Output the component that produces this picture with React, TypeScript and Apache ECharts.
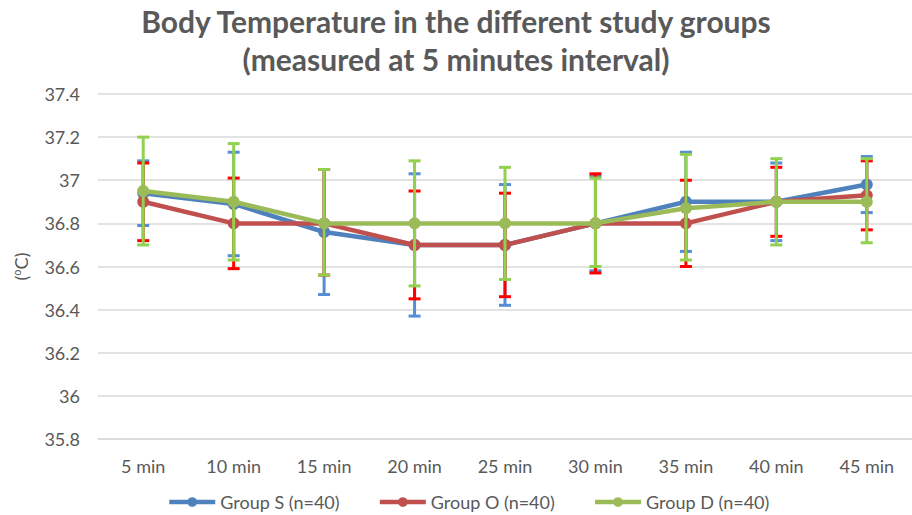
import React, { useEffect, useRef } from "react";
import * as echarts from "echarts";

const categories = ["5 min", "10 min", "15 min", "20 min", "25 min", "30 min", "35 min", "40 min", "45 min"];

const groupNames = ["Group S (n=40)", "Group O (n=40)", "Group D (n=40)"];

const meanS = [36.94, 36.89, 36.76, 36.7, 36.7, 36.8, 36.9, 36.9, 36.98];
const upperS = [37.09, 37.13, 37.05, 37.03, 36.98, 37.02, 37.13, 37.08, 37.11];
const lowerS = [36.79, 36.65, 36.47, 36.37, 36.42, 36.58, 36.67, 36.72, 36.85];

const meanO = [36.9, 36.8, 36.8, 36.7, 36.7, 36.8, 36.8, 36.9, 36.93];
const upperO = [37.08, 37.01, 37.05, 36.95, 36.94, 37.03, 37.0, 37.06, 37.09];
const lowerO = [36.72, 36.59, 36.56, 36.45, 36.46, 36.57, 36.6, 36.74, 36.77];

const meanD = [36.95, 36.9, 36.8, 36.8, 36.8, 36.8, 36.87, 36.9, 36.9];
const upperD = [37.2, 37.17, 37.05, 37.09, 37.06, 37.01, 37.12, 37.1, 37.1];
const lowerD = [36.7, 36.63, 36.56, 36.51, 36.54, 36.6, 36.63, 36.7, 36.71];

const lineColors = ["#4F81BD", "#C0504D", "#9BBB59"];
const errColors = ["#558ED5", "#FF0000", "#92D050"];

const FONT = "Lato";

export default function App() {
  const ref = useRef<HTMLDivElement>(null);

  useEffect(() => {
    if (!ref.current) return;
    const chart = echarts.init(ref.current, null, { renderer: "svg" });

    const means = [meanS, meanO, meanD];
    const uppers = [upperS, upperO, upperD];
    const lowers = [lowerS, lowerO, lowerD];

    const errSeries = means.map((m, gi) => ({
      type: "custom",
      name: groupNames[gi] + " err",
      z: 2 + gi * 2,
      silent: true,
      data: m.map((_, i) => [i, lowers[gi][i], uppers[gi][i]]),
      renderItem: (params: any, api: any) => {
        const x = api.value(0);
        const lo = api.coord([x, api.value(1)]);
        const hi = api.coord([x, api.value(2)]);
        const hw = 6;
        const style = { stroke: errColors[gi], lineWidth: 3 };
        return {
          type: "group",
          children: [
            { type: "line", shape: { x1: lo[0], y1: lo[1], x2: hi[0], y2: hi[1] }, style },
            { type: "line", shape: { x1: hi[0] - hw, y1: hi[1], x2: hi[0] + hw, y2: hi[1] }, style },
            { type: "line", shape: { x1: lo[0] - hw, y1: lo[1], x2: lo[0] + hw, y2: lo[1] }, style },
          ],
        };
      },
      encode: { x: 0, y: [1, 2] },
    }));

    const lineSeries = means.map((m, gi) => ({
      type: "line",
      name: groupNames[gi],
      data: m,
      z: 3 + gi * 2,
      symbol: "circle",
      symbolSize: 12,
      showSymbol: true,
      lineStyle: { color: lineColors[gi], width: 4.5 },
      itemStyle: { color: lineColors[gi] },
    }));

    chart.setOption({
      animation: false,
      backgroundColor: "#FFFFFF",
      title: {
        text: "Body Temperature in the different study groups\n(measured at 5 minutes interval)",
        left: "center",
        top: 2,
        padding: 0,
        textStyle: {
          fontFamily: FONT,
          fontSize: 30,
          fontWeight: "bold",
          color: "#595959",
          lineHeight: 38,
        },
      },
      legend: {
        data: groupNames,
        top: 493,
        left: 167,
        padding: 0,
        itemWidth: 46,
        itemHeight: 12,
        itemGap: 38,
        lineStyle: { width: 4.5 },
        textStyle: { fontFamily: FONT, fontSize: 18, color: "#595959" },
      },
      grid: { left: 98, right: -8, top: 94, bottom: 76, containLabel: false },
      xAxis: {
        type: "category",
        data: categories,
        boundaryGap: true,
        axisLine: { show: true, lineStyle: { color: "#D9D9D9", width: 1.5 } },
        axisTick: { show: false },
        axisLabel: { fontFamily: FONT, fontSize: 18, color: "#595959", margin: 18 },
      },
      yAxis: {
        type: "value",
        min: 35.8,
        max: 37.4,
        interval: 0.2,
        name: "({sup|o}C)",
        nameLocation: "middle",
        nameGap: 68,
        nameRotate: 90,
        nameTextStyle: {
          fontFamily: FONT,
          fontSize: 18,
          color: "#595959",
          rich: {
            sup: { fontFamily: FONT, fontSize: 11, color: "#595959", padding: [0, 0, 8, 0] },
          },
        },
        axisLine: { show: false },
        axisTick: { show: false },
        splitLine: { lineStyle: { color: "#D9D9D9", width: 1.5 } },
        axisLabel: {
          fontFamily: FONT,
          fontSize: 18,
          color: "#595959",
          margin: 18,
          formatter: (v: number) => String(+v.toFixed(1)),
        },
      },
      series: [...errSeries, ...lineSeries].sort((a: any, b: any) => a.z - b.z),
    });

    return () => chart.dispose();
  }, []);

  return <div ref={ref} style={{ position: "fixed", left: 0, top: 0, width: 912, height: 515 }} />;
}
